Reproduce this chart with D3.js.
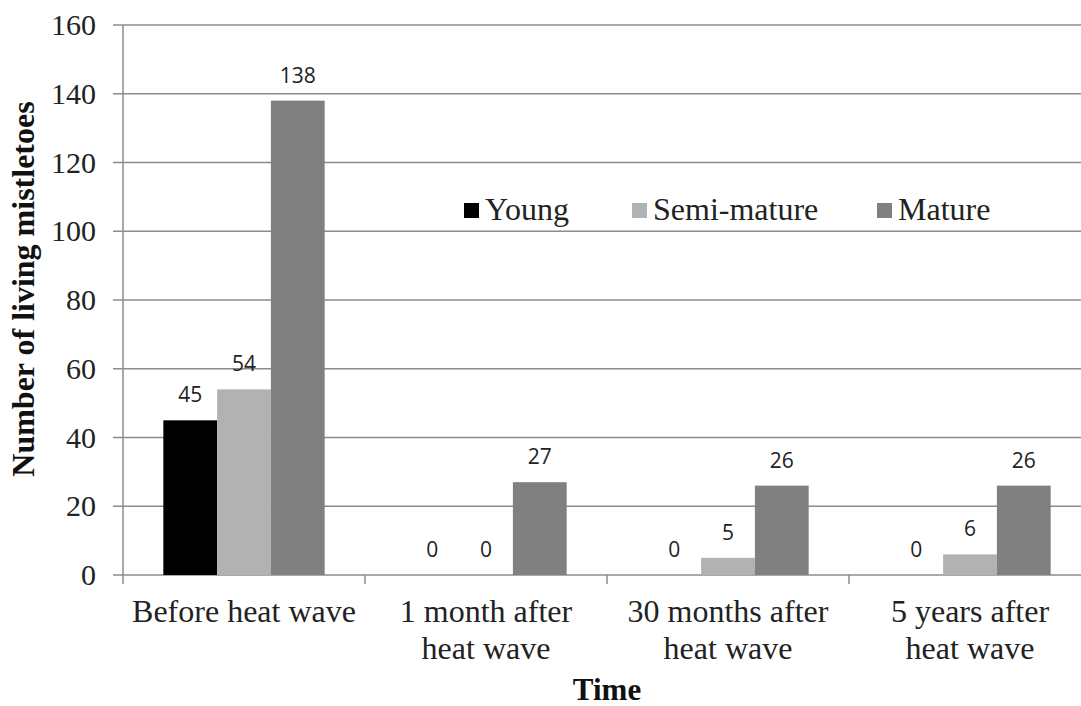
<!DOCTYPE html>
<html>
<head>
<meta charset="utf-8">
<script src="https://cdn.jsdelivr.net/npm/d3@7"></script>
<style>
  body { margin: 0; background: #fff; }
  svg { display: block; }
</style>
</head>
<body>
<svg width="1081" height="706"></svg>
<script>
// data
var categories = [["Before heat wave"], ["1 month after", "heat wave"], ["30 months after", "heat wave"], ["5 years after", "heat wave"]];
var seriesNames = ["Young", "Semi-mature", "Mature"];
var young = [45, 0, 0, 0];
var semiMature = [54, 0, 5, 6];
var mature = [138, 27, 26, 26];
var yTicks = [0, 20, 40, 60, 80, 100, 120, 140, 160];

var colors = ["#000000", "#b2b2b2", "#808080"];
var serif = "'Liberation Serif', 'Times New Roman', serif";
var sans = "'Open Sans', 'Liberation Sans', sans-serif";

var svg = d3.select("svg");
var plot = {left: 123, right: 1091, top: 25, bottom: 575};

var x = d3.scaleBand()
    .domain(d3.range(categories.length))
    .range([plot.left, plot.right])
    .paddingInner(0).paddingOuter(0);
// 3 bars + gap of 1.5 bar widths -> 0.75 bar on each side
var inner = d3.scaleBand()
    .domain(d3.range(seriesNames.length))
    .range([0, x.bandwidth()])
    .paddingInner(0).paddingOuter(0.75);
var y = d3.scaleLinear().domain([0, 160]).range([plot.bottom, plot.top]);

// gridlines
svg.append("g").selectAll("line").data(yTicks).enter().append("line")
    .attr("x1", plot.left - 10).attr("x2", plot.right)
    .attr("y1", function(d){ return y(d); }).attr("y2", function(d){ return y(d); })
    .attr("stroke", "#8c8c8c").attr("stroke-width", 1.5);

// y tick labels
svg.append("g").selectAll("text").data(yTicks).enter().append("text")
    .attr("x", plot.left - 27).attr("y", function(d){ return y(d) + 10; })
    .attr("text-anchor", "end")
    .style("font-family", serif).style("font-size", "30px").style("fill", "#222")
    .text(function(d){ return d; });

// y axis line
svg.append("line")
    .attr("x1", plot.left).attr("x2", plot.left)
    .attr("y1", plot.top).attr("y2", plot.bottom)
    .attr("stroke", "#8c8c8c").attr("stroke-width", 1.5);

// category ticks
svg.append("g").selectAll("line").data(d3.range(categories.length + 1)).enter().append("line")
    .attr("x1", function(d){ return plot.left + d * x.bandwidth(); })
    .attr("x2", function(d){ return plot.left + d * x.bandwidth(); })
    .attr("y1", plot.bottom).attr("y2", plot.bottom + 9)
    .attr("stroke", "#8c8c8c").attr("stroke-width", 1.5);

// bars
var series = [young, semiMature, mature];
series.forEach(function(vals, s){
    var g = svg.append("g");
    g.selectAll("rect").data(vals).enter().append("rect")
        .attr("x", function(d, i){ return x(i) + inner(s); })
        .attr("width", inner.bandwidth())
        .attr("y", function(d){ return y(d); })
        .attr("height", function(d){ return y(0) - y(d); })
        .attr("fill", colors[s]);
    g.selectAll("text").data(vals).enter().append("text")
        .attr("x", function(d, i){ return x(i) + inner(s) + inner.bandwidth() / 2; })
        .attr("y", function(d){ return y(d) - 18; })
        .attr("text-anchor", "middle")
        .style("font-family", sans).style("font-size", "21px").style("fill", "#222")
        .text(function(d){ return d; });
});

// category labels
var cl = svg.append("g").selectAll("text").data(categories).enter().append("text")
    .attr("text-anchor", "middle")
    .style("font-family", serif).style("font-size", "32px").style("fill", "#222");
cl.each(function(lines, i){
    var t = d3.select(this);
    lines.forEach(function(line, k){
        t.append("tspan")
            .attr("x", x(i) + x.bandwidth() / 2)
            .attr("y", 622 + k * 37)
            .text(line);
    });
});

// axis titles
svg.append("text")
    .attr("x", 607).attr("y", 700)
    .attr("text-anchor", "middle")
    .style("font-family", serif).style("font-size", "31px").style("font-weight", "bold").style("fill", "#111")
    .text("Time");
svg.append("text")
    .attr("transform", "translate(34," + 289 + ") rotate(-90)")
    .attr("text-anchor", "middle")
    .style("font-family", serif).style("font-size", "32px").style("font-weight", "bold").style("fill", "#111")
    .text("Number of living mistletoes");

// legend
var legendX = [464, 632, 877];
var lg = svg.append("g").selectAll("g").data(seriesNames).enter().append("g")
    .attr("transform", function(d, i){ return "translate(" + legendX[i] + ",0)"; });
lg.append("rect").attr("x", 0).attr("y", 203).attr("width", 15).attr("height", 15)
    .attr("fill", function(d, i){ return colors[i]; });
lg.append("text").attr("x", 21).attr("y", 220)
    .style("font-family", serif).style("font-size", "32px").style("fill", "#222")
    .text(function(d){ return d; });
</script>
</body>
</html>
